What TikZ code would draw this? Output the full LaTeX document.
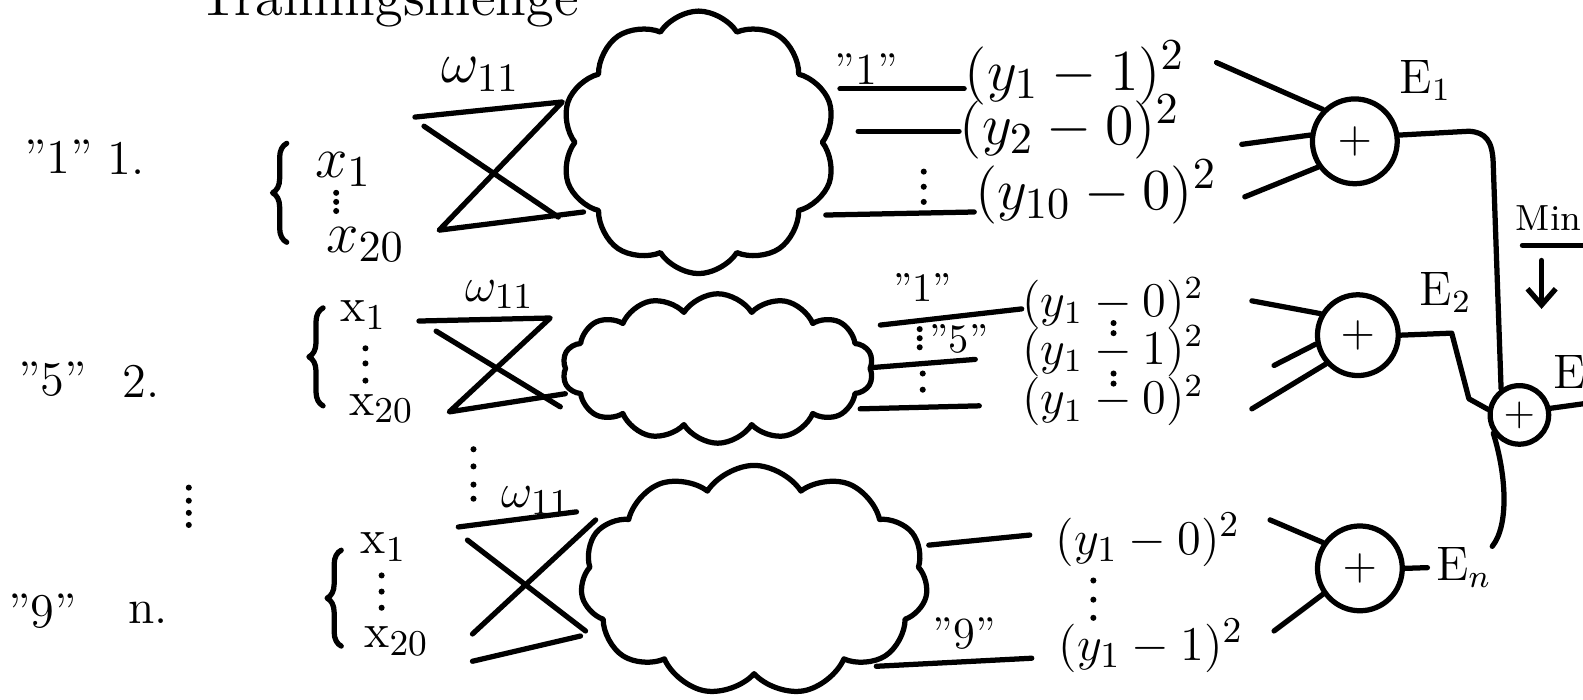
\documentclass[tikz,border=0pt]{standalone}
\usetikzlibrary{shapes.symbols,decorations.pathreplacing,arrows.meta}
\begin{document}
\begin{tikzpicture}[x=0.25pt,y=-0.25pt]
\tikzset{
 hand/.style={line width=1.3pt,line cap=round,line join=round},
 lbl/.style={inner sep=0pt,font=\fontsize{12}{14}\selectfont},
 xa/.style={inner sep=0pt,font=\fontsize{15}{17}\selectfont},
 xb/.style={inner sep=0pt,font=\fontsize{13}{15}\selectfont},
 termA/.style={inner sep=0pt,anchor=west,font=\fontsize{15}{17}\selectfont},
 termB/.style={inner sep=0pt,anchor=west,font=\fontsize{12}{14}\selectfont},
 termC/.style={inner sep=0pt,anchor=west,font=\fontsize{13}{15}\selectfont},
 sumnode/.style={hand,draw,circle,inner sep=0pt,minimum size=21pt,font=\fontsize{11}{13}\selectfont},
 elbl/.style={inner sep=0pt,font=\fontsize{12}{14}\selectfont},
 qlbl/.style={inner sep=0pt,font=\fontsize{10}{12}\selectfont},
 cloudnode/.style={hand,draw,cloud,cloud ignores aspect,cloud puff arc=115},
 dotmark/.style={circle,fill,inner sep=0pt,minimum size=1.5pt},
 brc/.style={hand,decorate,decoration={brace,amplitude=3.5pt}},
}
\useasboundingbox (0,0) rectangle (1568,693);

\node[lbl,anchor=base,font=\fontsize{14}{16}\selectfont] (tm) at (385,15) {Trainingsmenge};

% ---------- row 1 ----------
\node[lbl] (q1) at (58,155) {''1''};
\node[lbl] (n1) at (125,157) {1.};
\coordinate (b1a) at (284,240); \coordinate (b1b) at (284,142);
\draw[brc] (b1a) -- (b1b);
\node[xa] (x1a) at (340,168) {$x_1$};
\foreach \y [count=\i] in {191,200,209} \node[dotmark] (dx1\i) at (333,\y) {};
\node[xa] (x1b) at (362,242) {$x_{20}$};
\node[xa,font=\fontsize{14}{16}\selectfont] (w1) at (476,74) {$\omega_{11}$};
\coordinate (c1a) at (411,116); \coordinate (c1b) at (557,101);
\coordinate (c1c) at (435,228); \coordinate (c1d) at (578,210);
\coordinate (c1e) at (420,125); \coordinate (c1f) at (553,215);
\draw[hand] (c1a) -- (c1b) -- (c1c) -- (c1d);
\draw[hand] (c1e) -- (c1f);
\node[cloudnode,cloud puffs=10,minimum width=68pt,minimum height=65pt] (k1) at (692,141) {};
\node[qlbl,font=\fontsize{11}{13}\selectfont] (l1) at (858,68) {''1''};
\coordinate (o11) at (832,88);
\node[termA] (t11) at (955,72) {$(y_1-1)^2$};
\draw[hand] (o11) -- ([yshift=-4pt]t11.west);
\coordinate (o12) at (850,130);
\node[termA] (t12) at (950,126) {$(y_2-0)^2$};
\draw[hand] (o12) -- ([yshift=-1pt]t12.west);
\foreach \y [count=\i] in {170,185,200} \node[dotmark] (dy1\i) at (915,\y) {};
\coordinate (o13) at (818,213);
\node[termA] (t13) at (965,190) {$(y_{10}-0)^2$};
\draw[hand] (o13) -- ([yshift=-5pt]t13.west);
\node[sumnode] (p1) at (1342,140) {$+$};
\coordinate (s11) at (1205,62);  \draw[hand] (s11) -- (p1.135);
\coordinate (s12) at (1230,143); \draw[hand] (s12) -- (p1.172);
\coordinate (s13) at (1233,195); \draw[hand] (s13) -- (p1.215);
\node[elbl] (e1) at (1412,80) {$\mathrm{E}_1$};

% final sum
\node[sumnode,minimum size=14.5pt,font=\fontsize{10}{12}\selectfont] (pF) at (1505,411) {$+$};
\draw[hand] (p1.8) -- (1455,130) .. controls (1472,131) and (1478,140) .. (1479,160) -- (pF.125);
\node[elbl,font=\fontsize{9}{11}\selectfont] (mn) at (1534,216) {Min};
\coordinate (u1) at (1508,243); \coordinate (u2) at (1568,243);
\draw[hand] (u1) -- (u2);
\coordinate (a1) at (1527,258); \coordinate (a2) at (1527,306);
\draw[hand,-{Straight Barb[length=4pt,width=7pt]}] (a1) -- (a2);

% ---------- row 2 ----------
\node[lbl] (q2) at (52,376) {''5''};
\node[lbl] (n2) at (140,378) {2.};
\coordinate (b2a) at (320,402); \coordinate (b2b) at (320,305);
\draw[brc] (b2a) -- (b2b);
\node[xb] (x2a) at (360,312) {$\mathrm{x}_1$};
\foreach \y [count=\i] in {345,360,377} \node[dotmark] (dx2\i) at (362,\y) {};
\node[xb] (x2b) at (378,405) {$\mathrm{x}_{20}$};
\node[xb] (w2) at (495,292) {$\omega_{11}$};
\coordinate (c2a) at (415,318); \coordinate (c2b) at (545,315);
\coordinate (c2c) at (445,408); \coordinate (c2d) at (560,390);
\coordinate (c2e) at (432,328); \coordinate (c2f) at (555,403);
\draw[hand] (c2a) -- (c2b) -- (c2c) -- (c2d);
\draw[hand] (c2e) -- (c2f);
\node[cloudnode,cloud puffs=14,minimum width=77pt,minimum height=37pt] (k2) at (711,365) {};
\node[qlbl] (l21) at (914,285) {''1''};
\coordinate (o21) at (872,322);
\node[termB] (t21) at (1012,300) {$(y_1-0)^2$};
\draw[hand] (o21) -- ([yshift=-1.5pt]t21.west);
\foreach \y [count=\i] in {326,335,344} \node[dotmark] (dy2\i) at (911,\y) {};
\node[qlbl] (l22) at (950,336) {''5''};
\coordinate (o22) at (865,364); \coordinate (e22) at (966,356);
\draw[hand] (o22) -- (e22);
\node[termB] (t22) at (1012,348) {$(y_1-1)^2$};
\foreach \y [count=\i] in {370,386} \node[dotmark] (dz2\i) at (914,\y) {};
\coordinate (o23) at (852,405); \coordinate (e23) at (970,402);
\draw[hand] (o23) -- (e23);
\node[termB] (t23) at (1012,397) {$(y_1-0)^2$};
\foreach \y [count=\i] in {320,330,370,380} \node[dotmark] (dm2\i) at (1103,\y) {};
\node[sumnode,minimum size=20pt] (p2) at (1345,332) {$+$};
\coordinate (s21) at (1240,298); \draw[hand] (s21) -- (p2.150);
\coordinate (s22) at (1262,362); \draw[hand] (s22) -- (p2.192);
\coordinate (s23) at (1240,405); \draw[hand] (s23) -- (p2.222);
\node[elbl] (e2) at (1432,290) {$\mathrm{E}_2$};
\draw[hand] (p2.east) -- (1438,330) -- (1455,395) -- (pF.170);
\node[elbl] (eF) at (1555,368) {E};
\coordinate (out) at (1568,400);
\draw[hand] (pF.12) -- (out);

% ---------- dots between rows ----------
\foreach \y [count=\i] in {445,462,480,494} \node[dotmark] (dmid\i) at (469,\y) {};
\foreach \y [count=\i] in {483,496,508,520} \node[dotmark] (dleft\i) at (187,\y) {};

% ---------- row 3 ----------
\node[lbl] (q3) at (42,605) {''9''};
\node[lbl] (n3) at (147,607) {n.};
\coordinate (b3a) at (338,640); \coordinate (b3b) at (338,545);
\draw[brc] (b3a) -- (b3b);
\node[xb] (x3a) at (380,542) {$\mathrm{x}_1$};
\foreach \y [count=\i] in {570,586,602} \node[dotmark] (dx3\i) at (378,\y) {};
\node[xb] (x3b) at (393,635) {$\mathrm{x}_{20}$};
\node[xb] (w3) at (531,496) {$\omega_{11}$};
\coordinate (c3a) at (454,522); \coordinate (c3b) at (571,507);
\coordinate (c3c) at (463,535); \coordinate (c3d) at (580,625);
\coordinate (c3e) at (590,515); \coordinate (c3f) at (468,628);
\coordinate (c3g) at (468,655); \coordinate (c3h) at (575,630);
\draw[hand] (c3a) -- (c3b);
\draw[hand] (c3c) -- (c3d);
\draw[hand] (c3e) -- (c3f);
\draw[hand] (c3g) -- (c3h);
\node[cloudnode,cloud puffs=11,minimum width=86pt,minimum height=57pt] (k3) at (747,575) {};
\coordinate (o31) at (920,540); \coordinate (e31) at (1020,530);
\draw[hand] (o31) -- (e31);
\node[termC] (t31) at (1045,535) {$(y_1-0)^2$};
\foreach \y [count=\i] in {575,594,612} \node[dotmark] (dy3\i) at (1083,\y) {};
\coordinate (o32) at (868,660); \coordinate (e32) at (1022,652);
\draw[hand] (o32) -- (e32);
\node[termC] (t32) at (1048,640) {$(y_1-1)^2$};
\node[qlbl,font=\fontsize{11}{13}\selectfont] (l3) at (955,628) {''9''};
\node[sumnode] (p3) at (1347,563) {$+$};
\coordinate (s31) at (1258,515); \draw[hand] (s31) -- (p3.145);
\coordinate (s32) at (1262,625); \draw[hand] (s32) -- (p3.215);
\node[elbl] (en) at (1450,562) {$\mathrm{E}_n$};
\draw[hand,shorten >=2pt] (p3.east) -- (en.west);
\draw[hand] (en.north east) .. controls (1495,520) and (1492,470) .. (pF.215);
\end{tikzpicture}
\end{document}
